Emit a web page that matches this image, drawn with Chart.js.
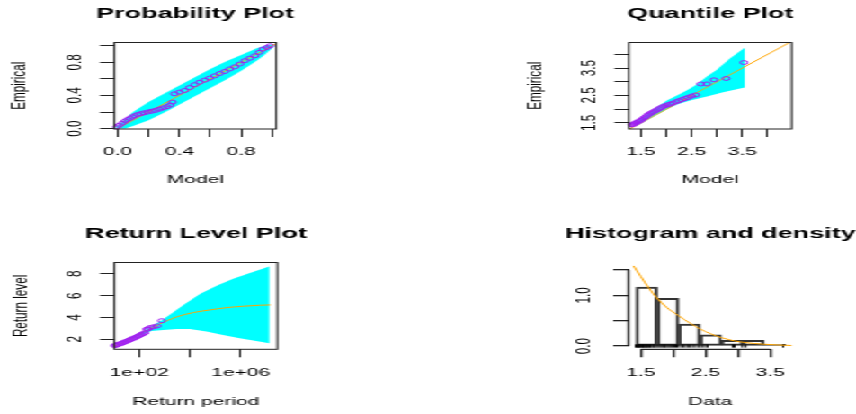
<!DOCTYPE html>
<html><head><meta charset="utf-8">
<script src="https://cdn.jsdelivr.net/npm/chart.js@4/dist/chart.umd.min.js"></script>
<style>
html,body{margin:0;padding:0;background:#fff;width:856px;height:414px;overflow:hidden}
#wrap{position:absolute;left:0;top:0;width:476px;height:414px;transform:scaleX(1.79832);transform-origin:0 0}
canvas{position:absolute;display:block}
</style></head><body>
<div id="wrap">
<canvas id="c1" width="217" height="207" style="left:0;top:0"></canvas>
<canvas id="c2" width="314" height="207" style="left:238px;top:0"></canvas>
<canvas id="c3" width="218" height="207" style="left:0;top:207px"></canvas>
<canvas id="c4" width="314" height="207" style="left:238px;top:207px"></canvas>
</div>
<script>
// ---------- Probability plot ----------
const PP_MODEL = [-0.005,0.010,0.030,0.048,0.065,0.080,0.095,0.110,0.130,0.150,0.170,0.195,0.220,0.245,0.270,0.295,0.320,0.340,0.355,0.368,0.400,0.433,0.465,0.498,0.530,0.563,0.595,0.628,0.660,0.693,0.725,0.758,0.790,0.823,0.855,0.888,0.915,0.940,0.965,0.985];
const PP_EMPIRICAL = [0.020,0.040,0.065,0.090,0.110,0.125,0.140,0.155,0.170,0.180,0.190,0.200,0.210,0.220,0.235,0.250,0.265,0.285,0.320,0.420,0.440,0.460,0.495,0.530,0.560,0.585,0.610,0.637,0.665,0.690,0.720,0.746,0.780,0.820,0.850,0.880,0.920,0.960,0.980,1.000];
const PP_BAND_X = [-0.01,0.05,0.10,0.20,0.30,0.40,0.50,0.60,0.70,0.80,0.90,0.95,1.01];
const PP_BAND_HIGH = [0.02,0.12,0.20,0.32,0.42,0.52,0.62,0.72,0.81,0.89,0.97,1.00,1.02];
const PP_BAND_LOW = [0.00,0.00,0.03,0.10,0.19,0.29,0.39,0.49,0.59,0.70,0.82,0.89,0.99];
const PP_TICKS = [0,0.2,0.4,0.6,0.8,1.0];
const PP_TICK_LABELS = ['0.0','','0.4','','0.8',''];

// ---------- Quantile plot ----------
const QQ_MODEL = [1.32,1.34,1.36,1.38,1.40,1.42,1.45,1.48,1.51,1.54,1.57,1.60,1.63,1.66,1.70,1.74,1.78,1.82,1.86,1.90,1.94,1.98,2.03,2.08,2.13,2.19,2.25,2.31,2.37,2.43,2.50,2.58,2.68,2.80,2.94,3.18,3.53];
const QQ_EMPIRICAL = [1.43,1.44,1.46,1.48,1.50,1.52,1.55,1.58,1.61,1.65,1.69,1.73,1.78,1.82,1.86,1.90,1.94,1.98,2.02,2.06,2.10,2.13,2.16,2.19,2.22,2.27,2.31,2.35,2.39,2.43,2.48,2.52,2.92,2.92,3.07,3.12,3.70];
const QQ_BAND_UP_X = [1.40,1.62,1.82,2.02,2.21,2.40,2.60,2.80,2.99,3.26,3.545];
const QQ_BAND_UP_Y = [1.52,1.82,2.08,2.33,2.50,2.68,2.90,3.19,3.43,3.86,4.24];
const QQ_BAND_LO_X = [1.40,1.68,1.94,2.21,2.47,2.80,3.12,3.545];
const QQ_BAND_LO_Y = [1.38,1.66,1.93,2.17,2.32,2.46,2.62,2.79];
const QQ_TICKS = [1.5,2.0,2.5,3.0,3.5,4.0];
const QQ_TICK_LABELS = ['1.5','','2.5','','3.5',''];

// ---------- Return level plot ----------
const RL_PERIOD = [10.7,12.0,13.8,15.8,18.2,20.9,24.0,27.5,31.6,36.3,41.7,47.9,55.0,63.1,72.4,83.2,95.5,110,126,145,166,195,224,263,355,501,759];
const RL_LEVEL = [1.42,1.46,1.50,1.55,1.60,1.65,1.70,1.76,1.82,1.88,1.94,2.00,2.06,2.12,2.18,2.25,2.32,2.40,2.46,2.52,2.60,2.92,2.95,3.07,3.14,3.22,3.70];
const RL_FIT_PERIOD = [10.7,17.8,30,57,145,661,2950,13500,60300,275000,1230000,5620000,14800000];
const RL_FIT_LEVEL = [1.38,1.55,1.85,2.15,2.64,3.41,4.05,4.45,4.69,4.90,5.03,5.12,5.15];
const RL_CI_UP_PERIOD = [10.7,18,100,891,5500,24500,112000,500000,2290000,13200000];
const RL_CI_UP_LEVEL = [1.40,1.60,2.52,3.84,5.15,6.14,6.90,7.54,8.07,8.67];
const RL_CI_LO_PERIOD = [10.7,100,300,891,2950,9770,44700,200000,912000,4070000,13200000];
const RL_CI_LO_LEVEL = [1.37,2.32,2.75,2.85,2.95,2.95,2.72,2.40,2.09,1.84,1.63];
const RL_X_TICKS = [1e2,1e4,1e6];
const RL_X_TICK_LABELS = ['1e+02','','1e+06'];
const RL_Y_TICKS = [2,4,6,8];
const RL_Y_TICK_LABELS = ['2','4','6','8'];

// ---------- Histogram and density ----------
const HIST_BREAKS = [1.425,1.755,2.085,2.415,2.745,3.075,3.405,3.735];
const HIST_DENSITY = [1.16,0.94,0.43,0.22,0.11,0.11,0.035];
const DENS_X = [1.387,1.50,1.62,1.746,1.90,2.08,2.26,2.41,2.60,2.76,2.95,3.10,3.40,3.83];
const DENS_Y = [1.58,1.37,1.15,0.95,0.76,0.60,0.45,0.34,0.23,0.16,0.10,0.07,0.035,0.01];
const RUG_DATA = [1.42,1.44,1.45,1.47,1.48,1.50,1.52,1.53,1.55,1.57,1.58,1.60,1.62,1.64,1.66,1.69,1.71,1.74,1.77,1.80,1.83,1.86,1.88,1.91,1.94,1.97,2.00,2.03,2.06,2.10,2.14,2.18,2.22,2.26,2.30,2.35,2.40,2.44,2.49,2.53,2.92,2.95,3.07,3.12,3.70];
const H_X_TICKS = [1.5,2.0,2.5,3.0,3.5];
const H_X_TICK_LABELS = ['1.5','','2.5','','3.5'];
const H_Y_TICKS = [0,0.5,1.0,1.5];
const H_Y_TICK_LABELS = ['0.0','','1.0',''];

// ---------- styling / helpers ----------
const CYAN = '#00FFFF', PURPLE = '#A020F0', ORANGE = '#FFA500';
const H = 207, FS = 11.7;
Chart.defaults.font.family = "'Liberation Sans', Arial, Helvetica, sans-serif";
Chart.defaults.color = '#000';

const pts = (xs, ys) => xs.map((x, i) => ({x: x, y: ys[i]}));

const rFrame = {
  id: 'rFrame',
  afterDatasetsDraw(chart, args, opts) {
    const ctx = chart.ctx, a = chart.chartArea;
    ctx.save();
    ctx.strokeStyle = '#222';
    if (opts.box) {
      ctx.lineWidth = 1;
      ctx.strokeRect(a.left, a.top, a.right - a.left, a.bottom - a.top);
    } else {
      ctx.lineWidth = 1.3;
      const xs = chart.scales.x, ys = chart.scales.y;
      const xt = xs.ticks, yt = ys.ticks;
      ctx.beginPath();
      ctx.moveTo(xs.getPixelForValue(xt[0].value), a.bottom);
      ctx.lineTo(xs.getPixelForValue(xt[xt.length - 1].value), a.bottom);
      ctx.moveTo(a.left, ys.getPixelForValue(yt[0].value));
      ctx.lineTo(a.left, ys.getPixelForValue(yt[yt.length - 1].value));
      ctx.stroke();
    }
    ctx.restore();
  }
};

function xScale(o) {
  return {
    type: o.type || 'linear', position: 'bottom', min: o.min, max: o.max, offset: false,
    afterBuildTicks: s => { s.ticks = o.ticks.map(v => ({value: v})); },
    afterFit: s => { s.height = H - o.B; s.paddingLeft = 0; s.paddingRight = 0; },
    ticks: { autoSkip: false, minRotation: 0, maxRotation: 0, padding: 8, color: '#000',
             font: {size: FS}, callback: (v, i) => o.labels[i] },
    grid: { display: true, offset: false, drawOnChartArea: false, drawTicks: true, tickLength: 8,
            color: '#222', lineWidth: o.lw || 1 },
    border: { display: false },
    title: { display: true, text: o.title, color: '#000', font: {size: FS},
             padding: {top: 0, bottom: o.titlePad} }
  };
}
function yScale(o) {
  return {
    type: 'linear', position: 'left', min: o.min, max: o.max,
    afterBuildTicks: s => { s.ticks = o.ticks.map(v => ({value: v})); },
    afterFit: s => { s.width = o.L; s.paddingTop = 0; s.paddingBottom = 0; },
    ticks: { autoSkip: false, minRotation: 90, maxRotation: 90, crossAlign: 'center',
             padding: o.tickPad, color: '#000', font: {size: FS}, callback: (v, i) => o.labels[i] },
    grid: { display: true, drawOnChartArea: false, drawTicks: true, tickLength: o.tl || 8,
            color: '#222', lineWidth: o.lw || 1 },
    border: { display: false },
    title: { display: !!o.title, text: o.title || '', color: '#000', font: {size: FS},
             padding: {top: o.titlePad || 0, bottom: 0} }
  };
}
// empty right-hand margin (R's right plot margin), keeps the title centred on the plot region
function marginScale(w) {
  return {
    type: 'linear', position: 'right', display: true,
    afterFit: s => { s.width = w; s.paddingTop = 0; s.paddingBottom = 0; },
    ticks: { display: false }, grid: { display: false }, border: { display: false }
  };
}
function makeChart(id, o) {
  const el = document.getElementById(id);
  return new Chart(el, {
    type: 'line',
    data: { datasets: o.datasets },
    options: {
      responsive: false, animation: false, events: [], devicePixelRatio: 1,
      layout: { padding: 0 },
      plugins: {
        legend: { display: false }, tooltip: { enabled: false },
        title: { display: true, text: o.title, fullSize: true, color: '#000',
                 font: { size: 15, weight: 'bold' }, padding: { top: o.tTop, bottom: o.tBot } },
        rFrame: { box: o.box }
      },
      scales: { x: o.x, y: o.y, margin: marginScale(el.width - o.R) }
    },
    plugins: [rFrame]
  });
}
const pointSet = (data) => ({ data: data, showLine: false, pointRadius: 2, pointStyle: 'circle',
  pointBorderColor: PURPLE, borderColor: PURPLE, pointBackgroundColor: 'rgba(0,0,0,0)',
  backgroundColor: 'rgba(0,0,0,0)', pointBorderWidth: 1, clip: false, order: 0 });
const lineSet = (data, smooth) => ({ data: data, borderColor: ORANGE, borderWidth: 1, pointRadius: 0,
  fill: false, tension: smooth ? 0.4 : 0, cubicInterpolationMode: smooth ? 'monotone' : 'default', order: 1 });
const bandSet = (data) => ({ data: data, borderWidth: 0, borderColor: CYAN, backgroundColor: CYAN,
  pointRadius: 0, fill: 'shape', tension: 0, order: 2 });

// Panel 1: Probability Plot
makeChart('c1', {
  title: 'Probability Plot', tTop: 4.5, tBot: 20, R: 153.6, box: true,
  x: xScale({min: -0.021, max: 1.026, ticks: PP_TICKS, labels: PP_TICK_LABELS, B: 129, title: 'Model', titlePad: 20}),
  y: yScale({min: -0.005, max: 1.04, ticks: PP_TICKS, labels: PP_TICK_LABELS, L: 63.6, tickPad: 5.9, title: 'Empirical', titlePad: 3.4}),
  datasets: [
    pointSet(pts(PP_MODEL, PP_EMPIRICAL)),
    lineSet([{x: -0.1, y: -0.1}, {x: 1.1, y: 1.1}]),
    bandSet(pts(PP_BAND_X, PP_BAND_HIGH).concat(pts(PP_BAND_X, PP_BAND_LOW).reverse()))
  ]
});

// Panel 2: Quantile Plot
makeChart('c2', {
  title: 'Quantile Plot', tTop: 4.5, tBot: 20, R: 202.2, box: true,
  x: xScale({min: 1.263, max: 4.47, ticks: QQ_TICKS, labels: QQ_TICK_LABELS, B: 129, title: 'Model', titlePad: 20}),
  y: yScale({min: 1.28, max: 4.43, ticks: QQ_TICKS, labels: QQ_TICK_LABELS, L: 111.7, tickPad: 5.4, title: 'Empirical', titlePad: 52.4}),
  datasets: [
    pointSet(pts(QQ_MODEL, QQ_EMPIRICAL)),
    lineSet([{x: 1, y: 1}, {x: 5, y: 5}]),
    bandSet(pts(QQ_BAND_UP_X, QQ_BAND_UP_Y).concat(pts(QQ_BAND_LO_X, QQ_BAND_LO_Y).reverse()))
  ]
});

// Panel 3: Return Level Plot
makeChart('c3', {
  title: 'Return Level Plot', tTop: 17.8, tBot: 19.7, R: 154.2, box: true,
  x: xScale({type: 'logarithmic', min: 10.38, max: 2.754e7, ticks: RL_X_TICKS, labels: RL_X_TICK_LABELS, B: 142.3, title: 'Return period', titlePad: 5.3}),
  y: yScale({min: 1.08, max: 9.04, ticks: RL_Y_TICKS, labels: RL_Y_TICK_LABELS, L: 63.6, tickPad: 10.7, title: 'Return level', titlePad: 5.1}),
  datasets: [
    pointSet(pts(RL_PERIOD, RL_LEVEL)),
    lineSet(pts(RL_FIT_PERIOD, RL_FIT_LEVEL), true),
    bandSet(pts(RL_CI_UP_PERIOD, RL_CI_UP_LEVEL).concat(pts(RL_CI_LO_PERIOD, RL_CI_LO_LEVEL).reverse()))
  ]
});

// Panel 4: Histogram and density
const histBars = HIST_DENSITY.map((d, i) => ({x: (HIST_BREAKS[i] + HIST_BREAKS[i + 1]) / 2, y: d}));
makeChart('c4', {
  title: 'Histogram and density', tTop: 17.8, tBot: 19.7, R: 202.2, box: false,
  x: xScale({min: 1.309, max: 3.83, ticks: H_X_TICKS, labels: H_X_TICK_LABELS, B: 142.3, title: 'Data', titlePad: 5.3, lw: 1.3}),
  y: yScale({min: -0.065, max: 1.647, ticks: H_Y_TICKS, labels: H_Y_TICK_LABELS, L: 111.5, tickPad: 7.8, tl: 8.5, lw: 1.3}),
  datasets: [
    Object.assign(lineSet(pts(DENS_X, DENS_Y), true), {order: 0, clip: false}),
    { data: RUG_DATA.map(v => ({x: v, y: 0})), showLine: false, pointStyle: 'line', rotation: 90,
      pointRadius: 1.6, pointBorderColor: '#000', borderColor: '#000', pointBorderWidth: 1, clip: false, order: 1 },
    { type: 'bar', data: histBars, backgroundColor: 'rgba(0,0,0,0)', borderColor: '#333', borderWidth: 1.2,
      borderSkipped: false, barPercentage: 1, categoryPercentage: 1, order: 2 }
  ]
});
</script>
</body></html>
